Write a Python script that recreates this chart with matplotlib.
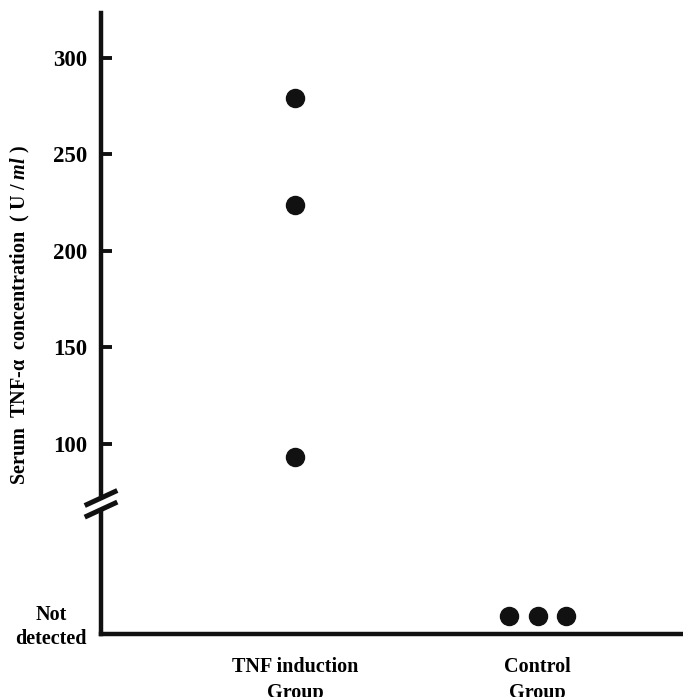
import matplotlib
matplotlib.use('Agg')
import matplotlib.pyplot as plt
import matplotlib.transforms as mtransforms
from matplotlib.patches import Polygon

plt.rcParams['font.family'] = ['Liberation Serif', 'DejaVu Serif']
plt.rcParams['font.weight'] = 'bold'
plt.rcParams['mathtext.fontset'] = 'custom'
plt.rcParams['mathtext.it'] = 'Liberation Serif:italic:bold'
plt.rcParams['mathtext.rm'] = 'Liberation Serif:bold'

# serum TNF-alpha (U/ml)
groups = ['TNF induction\nGroup', 'Control\nGroup']
tnf_values = [279, 224, 93]
control_count = 3          # all below detection limit
yticks = [100, 150, 200, 250, 300]

group_x = [1, 2]
nd_level = 11              # where "not detected" samples are drawn
break_at = [72, 66]        # axis break marks

fig = plt.figure(figsize=(6.83, 6.97), dpi=100)
ax = fig.add_axes([0.1479, 0.0897, 0.8521, 0.8917])

ax.plot([group_x[0]] * len(tnf_values), tnf_values, 'o', color='#111111',
        markersize=13, clip_on=False)
ctrl_x = [group_x[1] + 0.119 * (i - 1) for i in range(control_count)]
ax.plot(ctrl_x, [nd_level] * control_count, 'o', color='#111111',
        markersize=13, clip_on=False)

ax.set_xlim(0.2, 2.6)
ax.set_ylim(1.3, 323.3)

for s in ['top', 'right']:
    ax.spines[s].set_visible(False)
for s in ['left', 'bottom']:
    ax.spines[s].set_linewidth(3.2)
    ax.spines[s].set_color('#111111')

ax.set_yticks(yticks)
ax.set_yticklabels([str(v) for v in yticks])
ax.tick_params(axis='y', direction='in', length=8, width=2.8, color='#111111',
               labelsize=16.5, pad=10)
ax.set_xticks(group_x)
ax.set_xticklabels(groups, linespacing=1.45)
ax.tick_params(axis='x', length=0, labelsize=14.5, pad=16)

ax.set_ylabel('Serum  TNF-α  concentration  ( U / $ml$ )', fontsize=14.5,
              fontweight='bold')
ax.yaxis.set_label_coords(-0.118, 0.514)

ax.annotate('Not\ndetected', xy=(0, nd_level),
            xycoords=('axes fraction', 'data'), xytext=(-50, -11),
            textcoords='offset pixels', ha='center', va='center',
            fontsize=14.5, linespacing=1.3)

# double slash break on the y axis
trans = mtransforms.blended_transform_factory(ax.transAxes, ax.transData)
dx, dy = 0.028, 3.9
gap = Polygon([(-0.02, break_at[0] - 0.5), (0.02, break_at[0] + 2.5),
               (0.02, break_at[1] + 2.5), (-0.02, break_at[1] - 0.5)],
              closed=True, facecolor='white', edgecolor='none',
              transform=trans, clip_on=False, zorder=3)
ax.add_patch(gap)
for b in break_at:
    ax.plot([-dx, dx], [b - dy, b + dy], color='#111111', lw=3.6,
            transform=trans, clip_on=False, zorder=4,
            solid_capstyle='butt')

fig.savefig('out.png', dpi=100)
